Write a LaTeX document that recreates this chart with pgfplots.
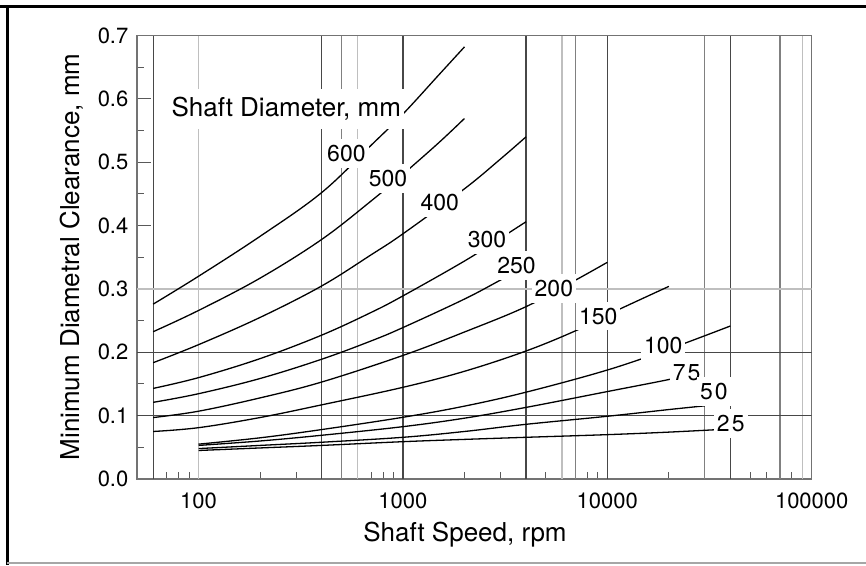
\documentclass[border=0pt]{standalone}
\usepackage{fontspec}
\setmainfont{TeX Gyre Heros}
\usepackage{pgfplots}
\pgfplotsset{compat=1.18}

\definecolor{gdark}{gray}{0.28}
\definecolor{gmid}{gray}{0.5}
\definecolor{glight}{gray}{0.75}

\pgfplotsset{
  gline/.style={forget plot, line width=0.6pt},
  curve/.style={black, line width=0.65pt, smooth, tension=0.6, forget plot},
}
\tikzset{
  dlabel/.style={fill=white, inner xsep=1.5pt, inner ysep=3pt, anchor=base,
                 font=\fontsize{11.5}{13}\selectfont},
}

\begin{document}
\begin{tikzpicture}
\useasboundingbox (0,0) rectangle (433pt,283pt);
\fill[white] (0,0) rectangle (433pt,283pt);
\begin{axis}[
  scale only axis,
  width=337.35pt, height=221.75pt,
  at={(68.5pt,43.5pt)}, anchor=south west,
  xmode=log, xmin=50, xmax=100000,
  ymin=0, ymax=0.7,
  xtick={100,1000,10000,100000},
  xticklabels={100,1000,10000,100000},
  minor xtick={60,70,80,90,200,300,400,500,600,700,800,900,
               2000,3000,4000,5000,6000,7000,8000,9000,
               20000,30000,40000,50000,60000,70000,80000,90000},
  ytick={0,0.1,0.2,0.3,0.4,0.5,0.6,0.7},
  minor ytick={0.05,0.15,0.25,0.35,0.45,0.55,0.65},
  tick align=inside, tick pos=left,
  major tick length=7pt, minor tick length=3.5pt,
  tick style={black!65, line width=0.5pt},
  axis line style={black!55, line width=0.6pt},
  /pgf/number format/assume math mode=true,
  yticklabel style={/pgf/number format/fixed, /pgf/number format/fixed zerofill,
                    /pgf/number format/precision=1,
                    font=\fontsize{11}{13}\selectfont, xshift=-0.8pt},
  xticklabel style={font=\fontsize{11}{13}\selectfont, yshift=-3.3pt},
]
% speed grid lines
\addplot[gline, gdark] coordinates {(60,0) (60,0.7)};
\addplot[gline, gdark] coordinates {(400,0) (400,0.7)};
\addplot[gline, gdark] coordinates {(1000,0) (1000,0.7)};
\addplot[gline, gdark] coordinates {(4000,0) (4000,0.7)};
\addplot[gline, gdark] coordinates {(10000,0) (10000,0.7)};
\addplot[gline, gdark] coordinates {(40000,0) (40000,0.7)};
\addplot[gline, gmid] coordinates {(500,0) (500,0.7)};
\addplot[gline, gmid] coordinates {(7000,0) (7000,0.7)};
\addplot[gline, gmid] coordinates {(30000,0) (30000,0.7)};
\addplot[gline, gmid] coordinates {(70000,0) (70000,0.7)};
\addplot[gline, glight] coordinates {(100,0) (100,0.7)};
\addplot[gline, glight] coordinates {(600,0) (600,0.7)};
\addplot[gline, glight] coordinates {(6000,0) (6000,0.7)};
\addplot[gline, glight] coordinates {(90000,0) (90000,0.7)};
% clearance grid lines
\addplot[gline, gdark] coordinates {(50,0.1) (100000,0.1)};
\addplot[gline, gdark] coordinates {(50,0.2) (100000,0.2)};
\addplot[gline, glight] coordinates {(50,0.3) (100000,0.3)};

% minimum clearance for each shaft diameter (mm)
% 600
\addplot[curve] coordinates {(60,0.276) (100,0.320) (200,0.383) (400,0.452)
  (700,0.527) (1000,0.576) (1500,0.638) (2000,0.682)};
% 500
\addplot[curve] coordinates {(60,0.2325) (100,0.266) (200,0.317) (400,0.378)
  (700,0.439) (1000,0.481) (1500,0.531) (2000,0.569)};
% 400
\addplot[curve] coordinates {(60,0.1836) (100,0.212) (200,0.255) (400,0.3046)
  (700,0.354) (1000,0.387) (2000,0.458) (3000,0.505) (4000,0.540)};
% 300
\addplot[curve] coordinates {(60,0.143) (100,0.160) (200,0.190) (400,0.227)
  (700,0.263) (1000,0.289) (2000,0.344) (3000,0.380) (4000,0.406)};
% 250
\addplot[curve] coordinates {(60,0.121) (100,0.1346) (200,0.1586) (400,0.189)
  (700,0.218) (1000,0.239) (2000,0.284) (3000,0.314) (4000,0.336)};
% 200
\addplot[curve] coordinates {(60,0.097) (100,0.107) (200,0.128) (400,0.153)
  (1000,0.195) (2000,0.232) (4000,0.272) (7000,0.314) (10000,0.342)};
% 150
\addplot[curve] coordinates {(60,0.075) (100,0.081) (200,0.097) (400,0.117)
  (1000,0.1447) (2000,0.170) (4000,0.202) (7000,0.234) (10000,0.259) (20000,0.304)};
% 100
\addplot[curve] coordinates {(100,0.055) (200,0.065) (400,0.078) (1000,0.0974)
  (2000,0.115) (4000,0.137) (10000,0.172) (20000,0.205) (40000,0.2415)};
% 75
\addplot[curve] coordinates {(100,0.053) (200,0.060) (400,0.069) (1000,0.0826)
  (2000,0.096) (4000,0.113) (10000,0.138) (20000,0.157) (25000,0.165)};
% 50
\addplot[curve] coordinates {(100,0.048) (200,0.053) (400,0.058) (1000,0.0658)
  (2000,0.075) (4000,0.0863) (10000,0.099) (20000,0.1096) (30000,0.1155)};
% 25
\addplot[curve] coordinates {(100,0.045) (200,0.049) (400,0.053) (1000,0.0589)
  (2000,0.0625) (4000,0.0658) (10000,0.070) (20000,0.074) (40000,0.079)};

% curve labels
\node[fill=white, inner xsep=1.5pt, inner ysep=4pt, anchor=base,
      font=\fontsize{13}{15}\selectfont] at (axis cs:268.8,0.5718) {Shaft Diameter, mm};
\node[dlabel] at (axis cs:529,0.5008) {600};
\node[dlabel] at (axis cs:845,0.4613) {500};
\node[dlabel] at (axis cs:1514,0.4238) {400};
\node[dlabel] at (axis cs:2581,0.3651) {300};
\node[dlabel] at (axis cs:3597,0.3247) {250};
\node[dlabel] at (axis cs:5477,0.2877) {200};
\node[dlabel] at (axis cs:9025,0.2446) {150};
\node[dlabel] at (axis cs:18780,0.1973) {100};
\node[dlabel] at (axis cs:24450,0.1551) {7\kern1pt 5};
\node[dlabel] at (axis cs:33270,0.1258) {5\kern1pt 0};
\node[dlabel] at (axis cs:40180,0.0753) {2\kern1pt 5};
\end{axis}

% axis titles
\node[anchor=base, font=\fontsize{13}{15}\selectfont] at (232.5pt,12.15pt) {Shaft Speed, rpm};
\node[anchor=base, rotate=90, font=\fontsize{13}{15}\selectfont] at (39.5pt,154.5pt)
  {Minimum Diametral Clearance, mm};

% outer frame
\draw[black, line width=1.5pt] (0,279.5pt) -- (433pt,279.5pt);
\draw[black, line width=1.5pt] (3.5pt,280.25pt) -- (3.5pt,0.5pt);
\draw[black!35, line width=0.8pt] (3.5pt,1.5pt) -- (433pt,1.5pt);
\end{tikzpicture}
\end{document}
